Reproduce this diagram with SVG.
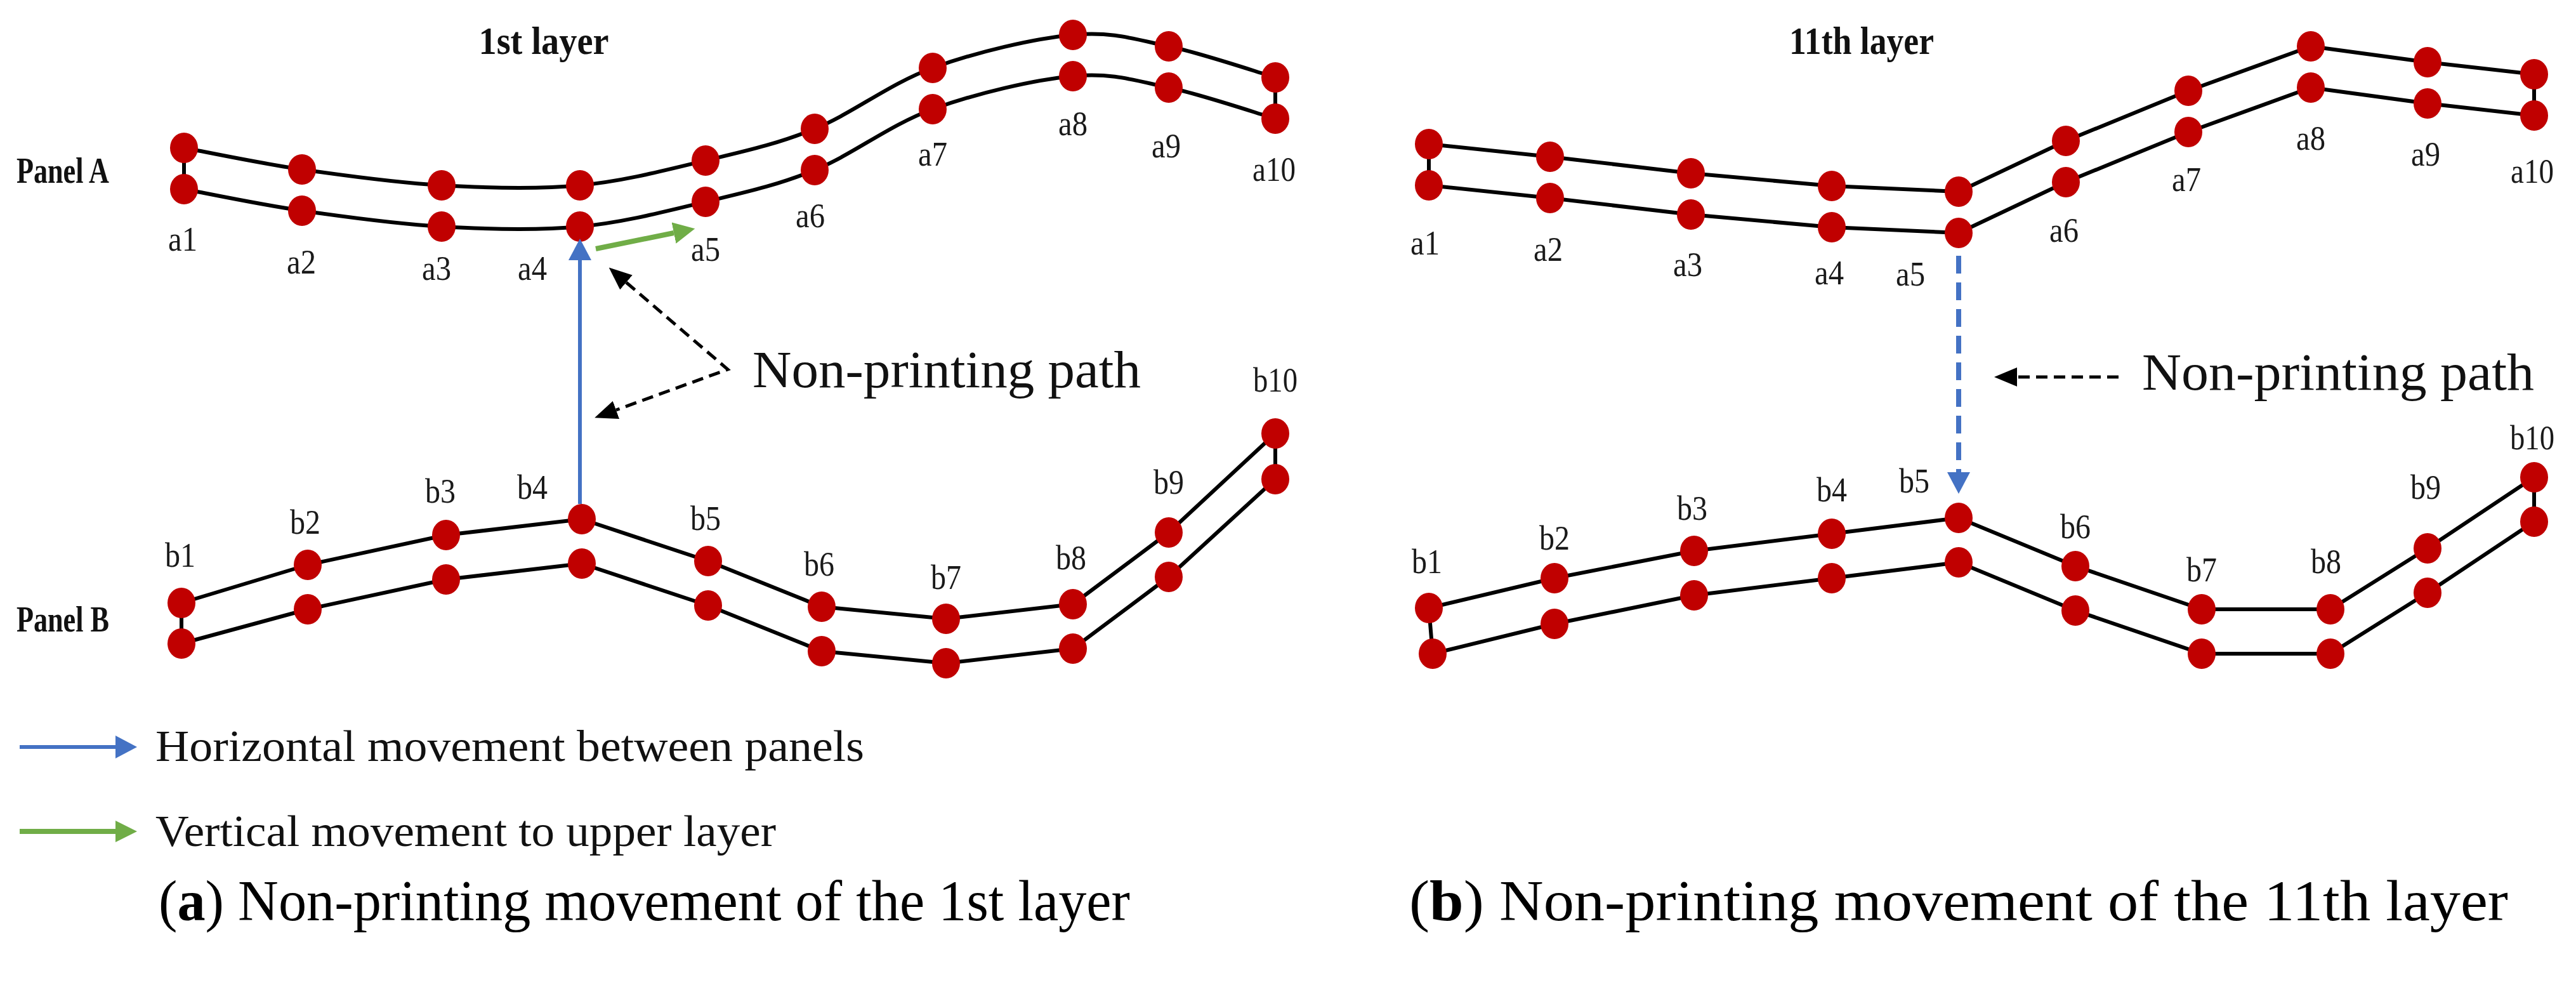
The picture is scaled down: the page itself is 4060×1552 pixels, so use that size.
<svg xmlns="http://www.w3.org/2000/svg" xmlns:xlink="http://www.w3.org/1999/xlink" width="4060" height="1552" viewBox="0 0 4060 1552">
<style>
.bg{fill:#ffffff}
.track{fill:none;stroke:#000;stroke-width:6;stroke-linejoin:round;stroke-linecap:round}
.dot{fill:#C00000}
.lbl{font-family:"Liberation Serif","Times New Roman",serif;font-size:54px;fill:#1a1a1a;text-anchor:middle}
.title{font-family:"Liberation Serif","Times New Roman",serif;font-size:62px;font-weight:bold;fill:#111;text-anchor:middle}
.panel{font-family:"Liberation Serif","Times New Roman",serif;font-size:58px;font-weight:bold;fill:#111}
.np{font-family:"Liberation Serif","Times New Roman",serif;font-size:82px;fill:#111}
.leg{font-family:"Liberation Serif","Times New Roman",serif;font-size:70px;fill:#111}
.cap{font-family:"Liberation Serif","Times New Roman",serif;font-size:90px;fill:#000}
.blue{fill:none;stroke:#4472C4;stroke-width:6}
.bluedash{fill:none;stroke:#4472C4;stroke-width:8;stroke-dasharray:28 14}
.green{fill:none;stroke:#70AD47;stroke-width:8}
.blackdash{fill:none;stroke:#000;stroke-width:5;stroke-dasharray:18 10}
</style>
<defs>
<marker id="ahBlue" markerUnits="userSpaceOnUse" markerWidth="34" markerHeight="36" viewBox="0 0 34 36" refX="0" refY="18" orient="auto"><path d="M0,0 L34,18 L0,36 z" fill="#4472C4"/></marker>
<marker id="ahGreen" markerUnits="userSpaceOnUse" markerWidth="34" markerHeight="34" viewBox="0 0 34 34" refX="0" refY="17" orient="auto"><path d="M0,0 L34,17 L0,34 z" fill="#70AD47"/></marker>
<marker id="ahBlack" markerUnits="userSpaceOnUse" markerWidth="36" markerHeight="30" viewBox="0 0 36 30" refX="0" refY="15" orient="auto-start-reverse"><path d="M0,0 L36,15 L0,30 z" fill="#000"/></marker>
<path id="pathAL" d="M290,233 C321,238.7 408.3,257.2 476,267 C543.7,276.8 623,287.8 696,292 C769,296.2 844.7,298.5 914,292 C983.3,285.5 1050.3,267.8 1112,253 C1173.7,238.2 1224.3,227.3 1284,203 C1343.7,178.7 1402.2,131.7 1470,107 C1537.8,82.3 1629,60.7 1691,55 C1753,49.3 1788.8,61.8 1842,73 C1895.2,84.2 1982,113.8 2010,122"/>
</defs>
<rect class="bg" x="0" y="0" width="4060" height="1552"/>

<!-- titles -->
<text class="title" x="857" y="85" textLength="205" lengthAdjust="spacingAndGlyphs">1st layer</text>
<text class="title" x="2934" y="85" textLength="228" lengthAdjust="spacingAndGlyphs">11th layer</text>
<text class="panel" x="26" y="288" textLength="146" lengthAdjust="spacingAndGlyphs">Panel A</text>
<text class="panel" x="26" y="995" textLength="146" lengthAdjust="spacingAndGlyphs">Panel B</text>

<!-- panel tracks -->
<g id="tracks">
  <use xlink:href="#pathAL" class="track"/>
  <use xlink:href="#pathAL" class="track" y="65"/>
  <line class="track" x1="290" y1="233" x2="290" y2="298"/>
  <line class="track" x1="2010" y1="122" x2="2010" y2="187"/>
  <polyline class="track" points="286,950 485,890 703,843 917,818 1116,884 1295,956 1491,975 1691,952 1842,839 2010,683"/>
  <polyline class="track" points="286,1014 485,960 703,913 917,888 1116,954 1295,1026 1491,1045 1691,1022 1842,909 2010,755"/>
  <line class="track" x1="286" y1="950" x2="286" y2="1014"/>
  <line class="track" x1="2010" y1="683" x2="2010" y2="755"/>
  <polyline class="track" points="2252,227 2443,247 2665,273 2887,293 3087,302 3256,222 3449,143 3642,73 3826,98 3994,117"/>
  <polyline class="track" points="2252,292 2443,312 2665,338 2887,358 3087,367 3256,287 3449,208 3642,138 3826,163 3994,182"/>
  <line class="track" x1="2252" y1="227" x2="2252" y2="292"/>
  <line class="track" x1="3994" y1="117" x2="3994" y2="182"/>
  <polyline class="track" points="2252,958 2450,911 2670,868 2887,841 3087,816 3271,892 3470,960 3673,960 3826,864 3994,752"/>
  <polyline class="track" points="2258,1030 2450,983 2670,938 2887,911 3087,886 3271,962 3470,1030 3673,1030 3826,934 3994,822"/>
  <line class="track" x1="2252" y1="958" x2="2258" y2="1030"/>
  <line class="track" x1="3994" y1="752" x2="3994" y2="822"/>
</g>

<!-- layer 1, panel A -->
<g id="L1-a1"><ellipse class="dot" cx="290" cy="233" rx="22" ry="24"/><ellipse class="dot" cx="290" cy="298" rx="22" ry="24"/><text class="lbl" x="288" y="395" textLength="46" lengthAdjust="spacingAndGlyphs">a1</text></g>
<g id="L1-a2"><ellipse class="dot" cx="476" cy="267" rx="22" ry="24"/><ellipse class="dot" cx="476" cy="332" rx="22" ry="24"/><text class="lbl" x="475" y="431" textLength="46" lengthAdjust="spacingAndGlyphs">a2</text></g>
<g id="L1-a3"><ellipse class="dot" cx="696" cy="292" rx="22" ry="24"/><ellipse class="dot" cx="696" cy="357" rx="22" ry="24"/><text class="lbl" x="688" y="441" textLength="46" lengthAdjust="spacingAndGlyphs">a3</text></g>
<g id="L1-a4"><ellipse class="dot" cx="914" cy="292" rx="22" ry="24"/><ellipse class="dot" cx="914" cy="357" rx="22" ry="24"/><text class="lbl" x="839" y="441" textLength="46" lengthAdjust="spacingAndGlyphs">a4</text></g>
<g id="L1-a5"><ellipse class="dot" cx="1112" cy="253" rx="22" ry="24"/><ellipse class="dot" cx="1112" cy="318" rx="22" ry="24"/><text class="lbl" x="1112" y="411" textLength="46" lengthAdjust="spacingAndGlyphs">a5</text></g>
<g id="L1-a6"><ellipse class="dot" cx="1284" cy="203" rx="22" ry="24"/><ellipse class="dot" cx="1284" cy="268" rx="22" ry="24"/><text class="lbl" x="1277" y="358" textLength="46" lengthAdjust="spacingAndGlyphs">a6</text></g>
<g id="L1-a7"><ellipse class="dot" cx="1470" cy="107" rx="22" ry="24"/><ellipse class="dot" cx="1470" cy="172" rx="22" ry="24"/><text class="lbl" x="1470" y="261" textLength="46" lengthAdjust="spacingAndGlyphs">a7</text></g>
<g id="L1-a8"><ellipse class="dot" cx="1691" cy="55" rx="22" ry="24"/><ellipse class="dot" cx="1691" cy="120" rx="22" ry="24"/><text class="lbl" x="1691" y="213" textLength="46" lengthAdjust="spacingAndGlyphs">a8</text></g>
<g id="L1-a9"><ellipse class="dot" cx="1842" cy="73" rx="22" ry="24"/><ellipse class="dot" cx="1842" cy="138" rx="22" ry="24"/><text class="lbl" x="1838" y="248" textLength="46" lengthAdjust="spacingAndGlyphs">a9</text></g>
<g id="L1-a10"><ellipse class="dot" cx="2010" cy="122" rx="22" ry="24"/><ellipse class="dot" cx="2010" cy="187" rx="22" ry="24"/><text class="lbl" x="2008" y="285" textLength="68" lengthAdjust="spacingAndGlyphs">a10</text></g>

<!-- layer 1, panel B -->
<g id="L1-b1"><ellipse class="dot" cx="286" cy="950" rx="22" ry="24"/><ellipse class="dot" cx="286" cy="1014" rx="22" ry="24"/><text class="lbl" x="284" y="893" textLength="48" lengthAdjust="spacingAndGlyphs">b1</text></g>
<g id="L1-b2"><ellipse class="dot" cx="485" cy="890" rx="22" ry="24"/><ellipse class="dot" cx="485" cy="960" rx="22" ry="24"/><text class="lbl" x="481" y="841" textLength="48" lengthAdjust="spacingAndGlyphs">b2</text></g>
<g id="L1-b3"><ellipse class="dot" cx="703" cy="843" rx="22" ry="24"/><ellipse class="dot" cx="703" cy="913" rx="22" ry="24"/><text class="lbl" x="694" y="792" textLength="48" lengthAdjust="spacingAndGlyphs">b3</text></g>
<g id="L1-b4"><ellipse class="dot" cx="917" cy="818" rx="22" ry="24"/><ellipse class="dot" cx="917" cy="888" rx="22" ry="24"/><text class="lbl" x="839" y="786" textLength="48" lengthAdjust="spacingAndGlyphs">b4</text></g>
<g id="L1-b5"><ellipse class="dot" cx="1116" cy="884" rx="22" ry="24"/><ellipse class="dot" cx="1116" cy="954" rx="22" ry="24"/><text class="lbl" x="1112" y="835" textLength="48" lengthAdjust="spacingAndGlyphs">b5</text></g>
<g id="L1-b6"><ellipse class="dot" cx="1295" cy="956" rx="22" ry="24"/><ellipse class="dot" cx="1295" cy="1026" rx="22" ry="24"/><text class="lbl" x="1291" y="907" textLength="48" lengthAdjust="spacingAndGlyphs">b6</text></g>
<g id="L1-b7"><ellipse class="dot" cx="1491" cy="975" rx="22" ry="24"/><ellipse class="dot" cx="1491" cy="1045" rx="22" ry="24"/><text class="lbl" x="1491" y="928" textLength="48" lengthAdjust="spacingAndGlyphs">b7</text></g>
<g id="L1-b8"><ellipse class="dot" cx="1691" cy="952" rx="22" ry="24"/><ellipse class="dot" cx="1691" cy="1022" rx="22" ry="24"/><text class="lbl" x="1688" y="897" textLength="48" lengthAdjust="spacingAndGlyphs">b8</text></g>
<g id="L1-b9"><ellipse class="dot" cx="1842" cy="839" rx="22" ry="24"/><ellipse class="dot" cx="1842" cy="909" rx="22" ry="24"/><text class="lbl" x="1842" y="778" textLength="48" lengthAdjust="spacingAndGlyphs">b9</text></g>
<g id="L1-b10"><ellipse class="dot" cx="2010" cy="683" rx="22" ry="24"/><ellipse class="dot" cx="2010" cy="755" rx="22" ry="24"/><text class="lbl" x="2010" y="617" textLength="70" lengthAdjust="spacingAndGlyphs">b10</text></g>

<!-- layer 11, panel A -->
<g id="L11-a1"><ellipse class="dot" cx="2252" cy="227" rx="22" ry="24"/><ellipse class="dot" cx="2252" cy="292" rx="22" ry="24"/><text class="lbl" x="2246" y="401" textLength="46" lengthAdjust="spacingAndGlyphs">a1</text></g>
<g id="L11-a2"><ellipse class="dot" cx="2443" cy="247" rx="22" ry="24"/><ellipse class="dot" cx="2443" cy="312" rx="22" ry="24"/><text class="lbl" x="2440" y="411" textLength="46" lengthAdjust="spacingAndGlyphs">a2</text></g>
<g id="L11-a3"><ellipse class="dot" cx="2665" cy="273" rx="22" ry="24"/><ellipse class="dot" cx="2665" cy="338" rx="22" ry="24"/><text class="lbl" x="2660" y="435" textLength="46" lengthAdjust="spacingAndGlyphs">a3</text></g>
<g id="L11-a4"><ellipse class="dot" cx="2887" cy="293" rx="22" ry="24"/><ellipse class="dot" cx="2887" cy="358" rx="22" ry="24"/><text class="lbl" x="2883" y="448" textLength="46" lengthAdjust="spacingAndGlyphs">a4</text></g>
<g id="L11-a5"><ellipse class="dot" cx="3087" cy="302" rx="22" ry="24"/><ellipse class="dot" cx="3087" cy="367" rx="22" ry="24"/><text class="lbl" x="3011" y="450" textLength="46" lengthAdjust="spacingAndGlyphs">a5</text></g>
<g id="L11-a6"><ellipse class="dot" cx="3256" cy="222" rx="22" ry="24"/><ellipse class="dot" cx="3256" cy="287" rx="22" ry="24"/><text class="lbl" x="3253" y="381" textLength="46" lengthAdjust="spacingAndGlyphs">a6</text></g>
<g id="L11-a7"><ellipse class="dot" cx="3449" cy="143" rx="22" ry="24"/><ellipse class="dot" cx="3449" cy="208" rx="22" ry="24"/><text class="lbl" x="3446" y="301" textLength="46" lengthAdjust="spacingAndGlyphs">a7</text></g>
<g id="L11-a8"><ellipse class="dot" cx="3642" cy="73" rx="22" ry="24"/><ellipse class="dot" cx="3642" cy="138" rx="22" ry="24"/><text class="lbl" x="3642" y="236" textLength="46" lengthAdjust="spacingAndGlyphs">a8</text></g>
<g id="L11-a9"><ellipse class="dot" cx="3826" cy="98" rx="22" ry="24"/><ellipse class="dot" cx="3826" cy="163" rx="22" ry="24"/><text class="lbl" x="3823" y="261" textLength="46" lengthAdjust="spacingAndGlyphs">a9</text></g>
<g id="L11-a10"><ellipse class="dot" cx="3994" cy="117" rx="22" ry="24"/><ellipse class="dot" cx="3994" cy="182" rx="22" ry="24"/><text class="lbl" x="3991" y="288" textLength="68" lengthAdjust="spacingAndGlyphs">a10</text></g>

<!-- layer 11, panel B -->
<g id="L11-b1"><ellipse class="dot" cx="2252" cy="958" rx="22" ry="24"/><ellipse class="dot" cx="2258" cy="1030" rx="22" ry="24"/><text class="lbl" x="2249" y="903" textLength="48" lengthAdjust="spacingAndGlyphs">b1</text></g>
<g id="L11-b2"><ellipse class="dot" cx="2450" cy="911" rx="22" ry="24"/><ellipse class="dot" cx="2450" cy="983" rx="22" ry="24"/><text class="lbl" x="2450" y="866" textLength="48" lengthAdjust="spacingAndGlyphs">b2</text></g>
<g id="L11-b3"><ellipse class="dot" cx="2670" cy="868" rx="22" ry="24"/><ellipse class="dot" cx="2670" cy="938" rx="22" ry="24"/><text class="lbl" x="2667" y="819" textLength="48" lengthAdjust="spacingAndGlyphs">b3</text></g>
<g id="L11-b4"><ellipse class="dot" cx="2887" cy="841" rx="22" ry="24"/><ellipse class="dot" cx="2887" cy="911" rx="22" ry="24"/><text class="lbl" x="2887" y="790" textLength="48" lengthAdjust="spacingAndGlyphs">b4</text></g>
<g id="L11-b5"><ellipse class="dot" cx="3087" cy="816" rx="22" ry="24"/><ellipse class="dot" cx="3087" cy="886" rx="22" ry="24"/><text class="lbl" x="3017" y="776" textLength="48" lengthAdjust="spacingAndGlyphs">b5</text></g>
<g id="L11-b6"><ellipse class="dot" cx="3271" cy="892" rx="22" ry="24"/><ellipse class="dot" cx="3271" cy="962" rx="22" ry="24"/><text class="lbl" x="3271" y="848" textLength="48" lengthAdjust="spacingAndGlyphs">b6</text></g>
<g id="L11-b7"><ellipse class="dot" cx="3470" cy="960" rx="22" ry="24"/><ellipse class="dot" cx="3470" cy="1030" rx="22" ry="24"/><text class="lbl" x="3470" y="916" textLength="48" lengthAdjust="spacingAndGlyphs">b7</text></g>
<g id="L11-b8"><ellipse class="dot" cx="3673" cy="960" rx="22" ry="24"/><ellipse class="dot" cx="3673" cy="1030" rx="22" ry="24"/><text class="lbl" x="3666" y="903" textLength="48" lengthAdjust="spacingAndGlyphs">b8</text></g>
<g id="L11-b9"><ellipse class="dot" cx="3826" cy="864" rx="22" ry="24"/><ellipse class="dot" cx="3826" cy="934" rx="22" ry="24"/><text class="lbl" x="3823" y="786" textLength="48" lengthAdjust="spacingAndGlyphs">b9</text></g>
<g id="L11-b10"><ellipse class="dot" cx="3994" cy="752" rx="22" ry="24"/><ellipse class="dot" cx="3994" cy="822" rx="22" ry="24"/><text class="lbl" x="3991" y="708" textLength="70" lengthAdjust="spacingAndGlyphs">b10</text></g>

<!-- connectors / movements -->
<g id="connectors">
  <line class="blue" x1="914" y1="794" x2="914" y2="410" marker-end="url(#ahBlue)"/>
  <line class="green" x1="939" y1="392" x2="1062" y2="367" marker-end="url(#ahGreen)"/>
  <path class="blackdash" d="M987,445 L1147,582 L971,646" marker-start="url(#ahBlack)" marker-end="url(#ahBlack)"/>
  <line class="bluedash" x1="3087" y1="403" x2="3087" y2="744" marker-end="url(#ahBlue)"/>
  <line class="blackdash" x1="3339" y1="594" x2="3179" y2="594" marker-end="url(#ahBlack)"/>
  <line class="blue" x1="31" y1="1177" x2="182" y2="1177" stroke-width="7" marker-end="url(#ahBlue)"/>
  <line class="green" x1="31" y1="1310" x2="182" y2="1310" stroke-width="7" marker-end="url(#ahGreen)"/>
</g>

<text class="np" x="1186" y="610" textLength="612" lengthAdjust="spacingAndGlyphs">Non-printing path</text>
<text class="np" x="3376" y="614" textLength="618" lengthAdjust="spacingAndGlyphs">Non-printing path</text>

<g id="legend">
  <text class="leg" x="245" y="1199" textLength="1117" lengthAdjust="spacingAndGlyphs">Horizontal movement between panels</text>
  <text class="leg" x="245" y="1333" textLength="978" lengthAdjust="spacingAndGlyphs">Vertical movement to upper layer</text>
</g>

<text class="cap" x="250" y="1450" textLength="1531" lengthAdjust="spacingAndGlyphs">(<tspan font-weight="bold">a</tspan>) Non-printing movement of the 1st layer</text>
<text class="cap" x="2221" y="1450" textLength="1732" lengthAdjust="spacingAndGlyphs">(<tspan font-weight="bold">b</tspan>) Non-printing movement of the 11th layer</text>
</svg>
